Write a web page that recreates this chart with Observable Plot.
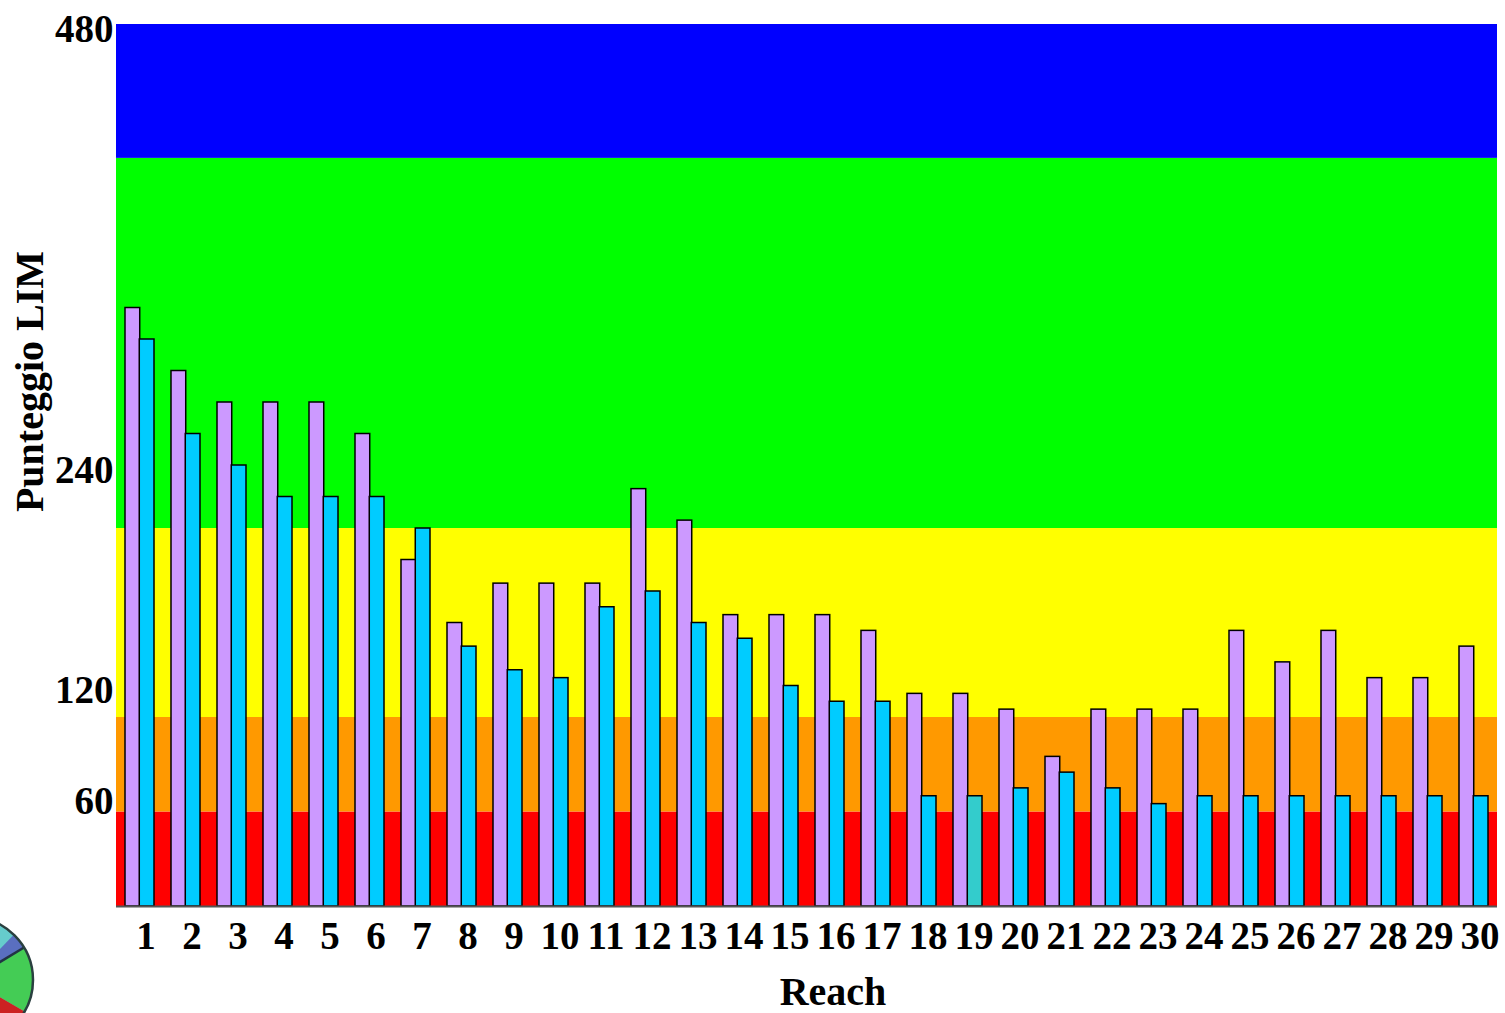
<!DOCTYPE html>
<html>
<head>
<meta charset="utf-8">
<script src="https://cdn.jsdelivr.net/npm/d3@7"></script>
<script src="https://cdn.jsdelivr.net/npm/@observablehq/plot@0.6"></script>
<style>
  html, body { margin: 0; padding: 0; background: #ffffff; overflow: hidden; }
  #chart svg { display: block; }
</style>
</head>
<body>
<div id="chart"></div>
<script>
// ---- data ----
const reaches = [1,2,3,4,5,6,7,8,9,10,11,12,13,14,15,16,17,18,19,20,21,22,23,24,25,26,27,28,29,30];
const limA = [380,340,320,320,320,300,220,180,205,205,205,265,245,185,185,185,175,135,135,125,95,125,125,125,175,155,175,145,145,165];
const limB = [360,300,280,260,260,260,240,165,150,145,190,200,180,170,140,130,130,70,70,75,85,75,65,70,70,70,70,70,70,70];
const highlightReach = 19;

// LIM class bands (lower, upper)
const bandLower = [0, 60, 120, 240, 475];
const bandUpper = [60, 120, 240, 475, 560];
const bandColors = ["#ff0000", "#ff9900", "#ffff00", "#00ff00", "#0000ff"];

// y tick labels as drawn in the original, and where they sit on the LIM scale
const yTickValues = [70, 140, 280, 560];
const yTickLabels = ["60", "120", "240", "480"];

// ---- tables ----
const rows = reaches.map((r, i) => ({reach: r, a: limA[i], b: limB[i]}));
const bands = bandLower.map((l, i) => ({y1: l, y2: bandUpper[i], color: bandColors[i]}));

// ---- layout ----
const W = 1505, H = 1013;
const mL = 116, mR = 8, mT = 24, mB = 107;
const padIn = 0.38, padOut = 0.19;
const step = (W - mL - mR) / (reaches.length - padIn + 2 * padOut);
const half = step * (1 - padIn) / 2;
const serif = "'Liberation Serif', 'Times New Roman', serif";

const chart = Plot.plot({
  width: W,
  height: H,
  marginTop: mT,
  marginLeft: mL,
  marginRight: mR,
  marginBottom: mB,
  style: {fontFamily: serif, fontWeight: "bold", background: "#ffffff", color: "#000"},
  x: {type: "band", domain: reaches, paddingInner: padIn, paddingOuter: padOut, align: 0.5, axis: null, label: null},
  y: {domain: [0, 560], axis: null, label: null},
  color: {type: "identity"},
  marks: [
    Plot.rect(bands, {y1: "y1", y2: "y2", fill: "color"}),
    Plot.barY(rows, {x: "reach", y: "a", fill: "#cc99ff", stroke: "#000", strokeWidth: 1.5, insetRight: half}),
    Plot.barY(rows, {x: "reach", y: "b", fill: d => d.reach === highlightReach ? "#33cccc" : "#00ccff",
                     stroke: "#000", strokeWidth: 1.5, insetLeft: half}),
    Plot.ruleY([0], {stroke: "#555", strokeWidth: 2}),
    Plot.axisX({tickSize: 0, tickPadding: 15, fontSize: 39, fontWeight: "bold", fontFamily: serif, dx: 6, fill: "#000", label: null}),
    Plot.axisY({ticks: yTickValues, tickFormat: d => yTickLabels[yTickValues.indexOf(d)],
                tickSize: 0, tickPadding: 3, fontSize: 39, fontWeight: "bold", fontFamily: serif, dy: 5, fill: "#000", label: null}),
    Plot.text(["Reach"], {frameAnchor: "bottom", lineAnchor: "bottom", textAnchor: "middle", dy: 98, dx: 26,
                          fontSize: 40, fontWeight: "bold", fontFamily: serif, fill: "#000"}),
    Plot.text(["Punteggio LIM"], {frameAnchor: "left", textAnchor: "middle", rotate: -90, dx: -86, dy: -84,
                          fontSize: 40, fontWeight: "bold", fontFamily: serif, fill: "#000"})
  ]
});

document.getElementById("chart").appendChild(chart);

// decorative logo, partially off-page at bottom-left
(function () {
  const svg = d3.select(chart);
  const g = svg.append("g").attr("transform", "translate(-30,980)");
  const r = 63;
  const arc = d3.arc().innerRadius(0).outerRadius(r);
  const deg = a => (a + 90) * Math.PI / 180; // screen angle -> d3 arc angle
  g.append("circle").attr("r", r).attr("fill", "#66cccc");
  const wedges = [
    {a0: -46, a1: -31, c: "#5a6fc0"},
    {a0: -31, a1: 30, c: "#44cc55"},
    {a0: 30, a1: 95, c: "#cc2222"}
  ];
  wedges.forEach(w => g.append("path")
    .attr("d", arc({startAngle: deg(w.a0), endAngle: deg(w.a1)}))
    .attr("fill", w.c));
  g.append("line").attr("x1", 0).attr("y1", 0)
    .attr("x2", r * Math.cos(-31 * Math.PI / 180)).attr("y2", r * Math.sin(-31 * Math.PI / 180))
    .attr("stroke", "#223344").attr("stroke-width", 2.5);
  g.append("circle").attr("r", r).attr("fill", "none").attr("stroke", "#2a4040").attr("stroke-width", 2.5);
})();
</script>
</body>
</html>
